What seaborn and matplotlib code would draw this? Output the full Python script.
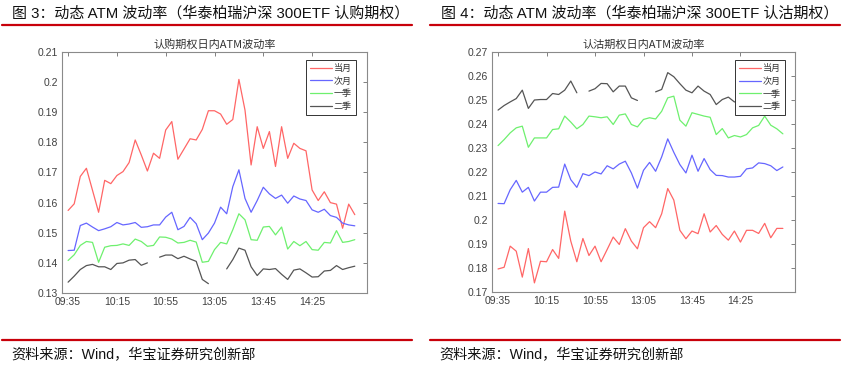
import numpy as np
import pandas as pd
import matplotlib
matplotlib.use("Agg")
import matplotlib.pyplot as plt
from matplotlib.lines import Line2D
from matplotlib.ticker import FuncFormatter, MultipleLocator
import seaborn as sns

nan = np.nan

# 5-minute bars, lunch break skipped
times = ['09:35', '09:40', '09:45', '09:50', '09:55', '10:00', '10:05', '10:10',
         '10:15', '10:20', '10:25', '10:30', '10:35', '10:40', '10:45', '10:50',
         '10:55', '11:00', '11:05', '11:10', '11:15', '11:20', '11:25', '11:30',
         '13:05', '13:10', '13:15', '13:20', '13:25', '13:30', '13:35', '13:40',
         '13:45', '13:50', '13:55', '14:00', '14:05', '14:10', '14:15', '14:20',
         '14:25', '14:30', '14:35', '14:40', '14:45', '14:50', '14:55', '15:00']
tick_pos = [0, 8, 16, 24, 32, 40]

series_names = ['当月', '次月', '一季', '二季']

# call options (图 3)
call_m1 = [0.1574, 0.1596, 0.1687, 0.1714, 0.1641, 0.1568, 0.1674, 0.1663, 0.1690, 0.1703,
           0.1733, 0.1808, 0.1758, 0.1705, 0.1764, 0.1747, 0.1841, 0.1869, 0.1744, 0.1778,
           0.1812, 0.1808, 0.1843, 0.1905, 0.1905, 0.1894, 0.1860, 0.1876, 0.2009, 0.1907,
           0.1725, 0.1852, 0.1780, 0.1836, 0.1720, 0.1852, 0.1747, 0.1797, 0.1780, 0.1772,
           0.1642, 0.1607, 0.1636, 0.1600, 0.1595, 0.1515, 0.1595, 0.1560]
call_m2 = [0.1441, 0.1442, 0.1524, 0.1532, 0.1519, 0.1507, 0.1513, 0.1520, 0.1534, 0.1526,
           0.1529, 0.1534, 0.1518, 0.1520, 0.1526, 0.1526, 0.1552, 0.1568, 0.1510, 0.1521,
           0.1551, 0.1530, 0.1477, 0.1499, 0.1532, 0.1585, 0.1563, 0.1653, 0.1709, 0.1614,
           0.1568, 0.1607, 0.1651, 0.1629, 0.1614, 0.1625, 0.1598, 0.1622, 0.1612, 0.1607,
           0.1576, 0.1568, 0.1578, 0.1557, 0.1551, 0.1532, 0.1526, 0.1523]
call_q1 = [0.1408, 0.1427, 0.1458, 0.1471, 0.1468, 0.1402, 0.1452, 0.1457, 0.1458, 0.1463,
           0.1458, 0.1479, 0.1471, 0.1455, 0.1458, 0.1486, 0.1485, 0.1479, 0.1466, 0.1468,
           0.1475, 0.1469, 0.1402, 0.1405, 0.1444, 0.1468, 0.1463, 0.1510, 0.1563, 0.1543,
           0.1477, 0.1475, 0.1519, 0.1521, 0.1493, 0.1519, 0.1446, 0.1471, 0.1457, 0.1471,
           0.1444, 0.1442, 0.1468, 0.1466, 0.1507, 0.1468, 0.1471, 0.1477]
call_q2 = [0.1336, 0.1356, 0.1378, 0.1391, 0.1395, 0.1387, 0.1387, 0.1378, 0.1398, 0.1400,
           0.1409, 0.1411, 0.1392, 0.1400, nan, 0.1419, 0.1426, 0.1426, 0.1414, 0.1422,
           0.1413, 0.1405, 0.1345, 0.1331, nan, nan, 0.1380, 0.1411, 0.1449, 0.1442,
           0.1387, 0.1358, 0.1380, 0.1378, 0.1381, 0.1362, 0.1345, 0.1376, 0.1380, 0.1367,
           0.1353, 0.1354, 0.1373, 0.1375, 0.1391, 0.1378, 0.1384, 0.1389]

# put options (图 4)
put_m1 = [0.1796, 0.1803, 0.1891, 0.1870, 0.1762, 0.1881, 0.1738, 0.1828, 0.1826, 0.1877,
          0.1840, 0.2037, 0.1912, 0.1826, 0.1923, 0.1852, 0.1891, 0.1826, 0.1877, 0.1929,
          0.1898, 0.1964, 0.1912, 0.1880, 0.1968, 0.1993, 0.1968, 0.2026, 0.2131, 0.2083,
          0.1957, 0.1922, 0.1954, 0.1943, 0.2026, 0.1950, 0.1977, 0.1940, 0.1916, 0.1954,
          0.1908, 0.1957, 0.1957, 0.1944, 0.1986, 0.1926, 0.1965, 0.1965]
put_m2 = [0.2069, 0.2068, 0.2126, 0.2165, 0.2116, 0.2136, 0.2079, 0.2116, 0.2116, 0.2136,
          0.2137, 0.2233, 0.2168, 0.2136, 0.2193, 0.2185, 0.2200, 0.2192, 0.2226, 0.2213,
          0.2233, 0.2245, 0.2196, 0.2133, 0.2207, 0.2240, 0.2203, 0.2263, 0.2338, 0.2282,
          0.2231, 0.2196, 0.2270, 0.2203, 0.2256, 0.2210, 0.2186, 0.2185, 0.2179, 0.2179,
          0.2182, 0.2213, 0.2217, 0.2238, 0.2235, 0.2226, 0.2206, 0.2221]
put_q1 = [0.2310, 0.2335, 0.2363, 0.2384, 0.2391, 0.2303, 0.2342, 0.2342, 0.2342, 0.2377,
          0.2380, 0.2433, 0.2408, 0.2380, 0.2398, 0.2433, 0.2430, 0.2426, 0.2430, 0.2398,
          0.2437, 0.2442, 0.2398, 0.2388, 0.2419, 0.2426, 0.2421, 0.2453, 0.2509, 0.2516,
          0.2416, 0.2391, 0.2447, 0.2440, 0.2433, 0.2428, 0.2356, 0.2381, 0.2342, 0.2352,
          0.2346, 0.2356, 0.2384, 0.2394, 0.2433, 0.2395, 0.2380, 0.2359]
put_q2 = [0.2458, 0.2477, 0.2492, 0.2506, 0.2541, 0.2465, 0.2500, 0.2502, 0.2502, 0.2527,
          0.2523, 0.2541, 0.2579, 0.2530, nan, 0.2537, 0.2547, 0.2569, 0.2568, 0.2534,
          0.2558, 0.2558, 0.2509, 0.2498, nan, nan, 0.2534, 0.2544, 0.2614, 0.2597,
          0.2568, 0.2541, 0.2530, 0.2558, 0.2537, 0.2523, 0.2481, 0.2502, 0.2512, 0.2492,
          0.2495, 0.2505, 0.2500, 0.2510, 0.2505, 0.2498, 0.2502, 0.2500]

colors = {'当月': '#ff6666', '次月': '#6666ff', '一季': '#6ef06e', '二季': '#555555'}


def long_frame(values):
    # one row per point, a new segment id after each gap so lines break there
    rows = []
    for name, vals in zip(series_names, values):
        seg, gap = 0, False
        for i, v in enumerate(vals):
            if np.isnan(v):
                gap = True
                continue
            if gap:
                seg += 1
                gap = False
            rows.append((i, v, name, '%s_%d' % (name, seg)))
    return pd.DataFrame(rows, columns=['idx', 'vol', 'series', 'seg'])


sns.set_style('white')
plt.rcParams['font.family'] = ['Liberation Sans', 'Noto Sans CJK SC', 'DejaVu Sans']
cjk = ['Noto Sans CJK SC', 'DejaVu Sans']

fig = plt.figure(figsize=(8.43, 3.69), dpi=100)
W, H = 843.0, 369.0

panels = [
    dict(box=(62, 52, 367, 293), data=[call_m1, call_m2, call_q1, call_q2], ylim=(0.13, 0.21),
         title='认购期权日内ATM波动率', leg=(0.964, 0.968),
         header='图 3：动态 ATM 波动率（华泰柏瑞沪深 300ETF 认购期权）', hx=12, line=(2, 412)),
    dict(box=(492, 52, 795, 292), data=[put_m1, put_m2, put_q1, put_q2], ylim=(0.17, 0.27),
         title='认沽期权日内ATM波动率', leg=(0.967, 0.967),
         header='图 4：动态 ATM 波动率（华泰柏瑞沪深 300ETF 认沽期权）', hx=441, line=(430, 840)),
]

for p in panels:
    x0, y0, x1, y1 = p['box']
    ax = fig.add_axes([x0 / W, 1 - y1 / H, (x1 - x0) / W, (y1 - y0) / H])
    df = long_frame(p['data'])
    sns.lineplot(data=df, x='idx', y='vol', hue='series', units='seg', estimator=None,
                 hue_order=series_names, palette=colors, linewidth=0.9, ax=ax)
    ax.set_xlim(-1, 49)
    ax.set_ylim(*p['ylim'])
    ax.yaxis.set_major_locator(MultipleLocator(0.01))
    ax.yaxis.set_major_formatter(FuncFormatter(lambda v, pos: '%g' % round(v, 3)))
    ax.set_xticks(tick_pos)
    ax.set_xticklabels([times[i] for i in tick_pos])
    ax.set_xlabel('')
    ax.set_ylabel('')
    ax.tick_params(direction='in', length=3, width=0.7, top=True, right=True,
                   color='#808080', labelcolor='#404040', labelsize=7.5, pad=3)
    for s in ax.spines.values():
        s.set_color('#8a8a8a')
        s.set_linewidth(0.8)
    ax.set_title(p['title'], fontsize=8, family=cjk, color='#333333', pad=3)

    handles, labels = ax.get_legend_handles_labels()
    leg = ax.legend(handles, labels, loc='upper right', bbox_to_anchor=p['leg'],
                    borderaxespad=0, frameon=True, fancybox=False, framealpha=1,
                    edgecolor='#333333', borderpad=0.45, handlelength=2.4,
                    handletextpad=0.25, labelspacing=0.42,
                    prop={'family': cjk, 'size': 6.5})
    leg.get_frame().set_linewidth(0.7)
    for t in leg.get_texts():
        t.set_color('#333333')

    # report header and footer
    fig.text(p['hx'] / W, 1 - 13 / H, p['header'], ha='left', va='center',
             fontsize=10.8, color='#111111')
    la, lb = p['line']
    fig.add_artist(Line2D([la / W, lb / W], [1 - 25 / H] * 2, color='#c8000a', lw=1.6))
    fig.add_artist(Line2D([la / W, lb / W], [1 - 340 / H] * 2, color='#c8000a', lw=1.6))
    fig.text((la + 9) / W, 1 - 355 / H, '资料来源：Wind，华宝证券研究创新部', ha='left',
             va='center', fontsize=10.2, color='#111111')

fig.savefig('out.png', dpi=100)
